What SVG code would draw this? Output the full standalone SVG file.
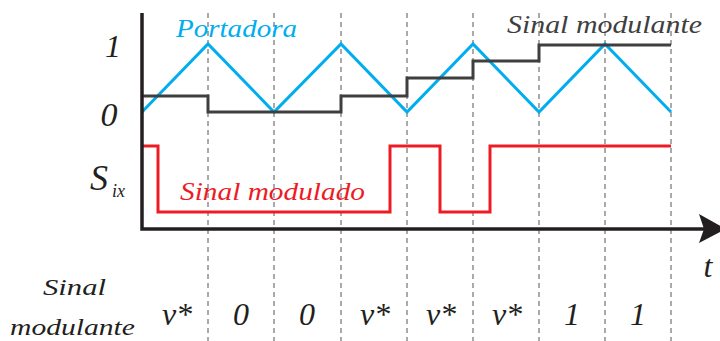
<svg xmlns="http://www.w3.org/2000/svg" width="720" height="341" viewBox="0 0 720 341">
<style>
text{font-family:'Liberation Serif','Times New Roman',serif;font-style:italic}
.dash{stroke:#555;stroke-width:1;stroke-dasharray:5 4;fill:none}
.w{fill:none;stroke-width:3;stroke-linejoin:miter}
</style>
<rect width="720" height="341" fill="#fff"/>
<g id="grid">
<line class="dash" x1="208" y1="13" x2="208" y2="341"/>
<line class="dash" x1="274" y1="13" x2="274" y2="341"/>
<line class="dash" x1="341" y1="13" x2="341" y2="341"/>
<line class="dash" x1="407" y1="13" x2="407" y2="341"/>
<line class="dash" x1="473" y1="13" x2="473" y2="341"/>
<line class="dash" x1="539" y1="13" x2="539" y2="341"/>
<line class="dash" x1="605" y1="13" x2="605" y2="341"/>
<line class="dash" x1="671" y1="13" x2="671" y2="341"/>
</g>
<g id="carrier">
<polyline class="w" stroke="#00AEEF" points="142,112 208,44 274,112 341,44 407,112 473,44 539,112 605,44 671,112"/>
</g>
<g id="modulating">
<polyline class="w" stroke="#3F3F3F" points="142,96 208,96 208,112 341,112 341,96 407,96 407,78 473,78 473,61 539,61 539,45 671,45"/>
</g>
<g id="modulated">
<polyline class="w" stroke="#ED1C24" points="142,146 158,146 158,212 390,212 390,146 440,146 440,212 490,212 490,146 671,146"/>
</g>
<g id="axes">
<polyline fill="none" stroke="#231F20" stroke-width="3.5" points="142,13 142,229 705,229"/>
<polygon fill="#231F20" points="699,214 726,229 699,243 704,229"/>
</g>
<g id="labels">
<text x="113" y="57" font-size="32" text-anchor="middle" fill="#231F20">1</text>
<text x="109" y="126" font-size="34" text-anchor="middle" fill="#231F20">0</text>
<text x="90" y="190" font-size="36" fill="#231F20">S</text>
<text x="112" y="197" font-size="18" fill="#231F20">ix</text>
<text x="176" y="37" font-size="26" fill="#00AEEF" textLength="121" lengthAdjust="spacingAndGlyphs">Portadora</text>
<text x="507" y="33" font-size="25" fill="#3F3F3F" textLength="195" lengthAdjust="spacingAndGlyphs">Sinal modulante</text>
<text x="180" y="200" font-size="26" fill="#ED1C24" textLength="185" lengthAdjust="spacingAndGlyphs">Sinal modulado</text>
<text x="708" y="277" font-size="32" text-anchor="middle" fill="#231F20">t</text>
<text x="43" y="295" font-size="24" fill="#231F20" textLength="63" lengthAdjust="spacingAndGlyphs">Sinal</text>
<text x="10" y="335" font-size="24" fill="#231F20" textLength="125" lengthAdjust="spacingAndGlyphs">modulante</text>
<g font-size="32" text-anchor="middle" fill="#231F20">
<text x="177" y="325">v*</text>
<text x="241" y="325">0</text>
<text x="307" y="325">0</text>
<text x="375" y="325">v*</text>
<text x="441" y="325">v*</text>
<text x="507" y="325">v*</text>
<text x="572" y="325">1</text>
<text x="638" y="325">1</text>
</g>
</g>
</svg>
